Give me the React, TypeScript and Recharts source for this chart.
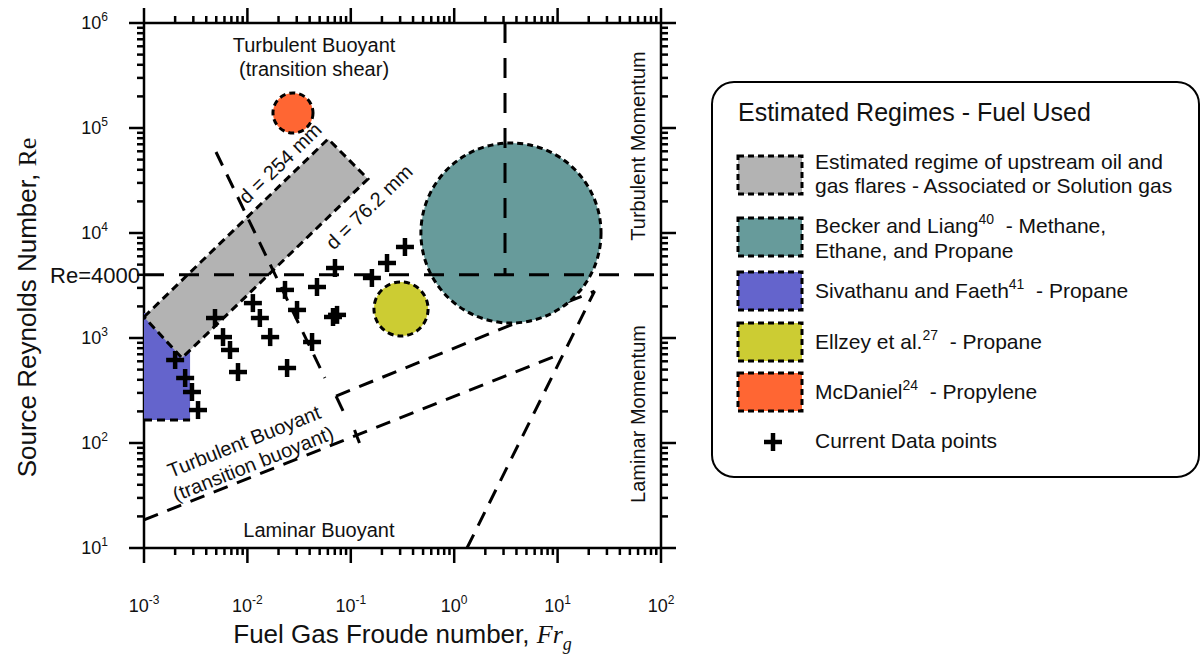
import React from "react";
import { ScatterChart, Scatter, XAxis, YAxis, Legend } from "recharts";

const FONT = "'Liberation Sans', Arial, Helvetica, sans-serif";
const SERIF = "'Liberation Serif', 'Times New Roman', serif";

// axis decades (exponents) and minor steps
const xDecades = [-3, -2, -1, 0, 1, 2];
const yDecades = [1, 2, 3, 4, 5, 6];
const minorSteps = [2, 3, 4, 5, 6, 7, 8, 9];
const RE_CRIT = 4000;

// current data points (Fr_g, Re)
const pointFr = [0.334, 0.224, 0.16, 0.0703, 0.0471, 0.0231, 0.0302, 0.0113, 0.0132, 0.00486, 0.00581, 0.00679, 0.0166, 0.0422, 0.0673, 0.0736, 0.00811, 0.0242, 0.002, 0.0025, 0.00291, 0.00333];
const pointRe = [7360, 5180, 3730, 4640, 3060, 2870, 1850, 2150, 1550, 1550, 1020, 769, 1020, 916, 1585, 1660, 474, 518, 617, 416, 306, 206];

// flare regime band corners
const flareFr = [0.001, 0.0603, 0.1465, 0.00233];
const flareRe = [1585, 78600, 32700, 645];

// Sivathanu and Faeth box corners
const sivFr = [0.001, 0.00279, 0.00279, 0.001];
const sivRe = [1730, 1730, 166, 166];

// regime circles: centre Fr, right-edge Fr, centre Re
const mcdFr = [0.0276, 0.0431];
const mcdRe = [139000, 139000];
const ellFr = [0.306, 0.559];
const ellRe = [1890, 1890];
const beckFr = [3.54, 26.3];
const beckRe = [10000, 10000];

// regime boundaries
const reLineFr = [0.001, 100];
const reLineRe = [RE_CRIT, RE_CRIT];
const shearLineFr = [3.1, 3.1];
const shearLineRe = [1e6, RE_CRIT];
const dLineFr = [0.00497, 0.0562];
const dLineRe = [59100, 416];
const upperFr = [0.072, 22.8];
const upperRe = [280, 2800];
const lowerFr = [0.001, 9.03];
const lowerRe = [18.5, 659];
const steepFr = [1.33, 22.8];
const steepRe = [10, 2800];
const upperTickFr = [0.072, 0.0841];
const upperTickRe = [280, 202];
const lowerTickFr = [0.1086, 0.1213];
const lowerTickRe = [133, 100];
const sivBottomFr = [0.001, 0.00279];
const sivBottomRe = [166, 166];

// in-plot annotations
const noteLines = [
  ["Turbulent Buoyant", "(transition shear)"],
  ["Turbulent Momentum"],
  ["Laminar Momentum"],
  ["Laminar Buoyant"],
  ["Turbulent Buoyant", "(transition buoyant)"],
  ["d = 254 mm"],
  ["d = 76.2 mm"],
];
const noteFr = [0.0441, 60, 60, 0.0492, 0.01026, 0.0207, 0.15];
const noteRe = [474000, 67400, 189, 14.8, 81.2, 46400, 17700];
const noteAngle = [0, -90, -90, 0, -21.7, -44, -44];

// legend
const legendTitle = "Estimated Regimes - Fuel Used";
const legendColors = ["#b3b3b3", "#679b9b", "#6464cc", "#cccc33", "#ff6633"];
const legendRows = [
  [{ t: "Estimated regime of upstream oil and" }, { t: "gas flares - Associated or Solution gas" }],
  [{ t: "Becker and Liang", sup: "40", rest: "\u00a0 - Methane," }, { t: "Ethane, and Propane" }],
  [{ t: "Sivathanu and Faeth", sup: "41", rest: "\u00a0 - Propane" }],
  [{ t: "Ellzey et al.", sup: "27", rest: "\u00a0 - Propane" }],
  [{ t: "McDaniel", sup: "24", rest: "\u00a0 - Propylene" }],
];
const legendPointLabel = "Current Data points";

const toPoints = (xs: number[], ys: number[]) => xs.map((x, i) => ({ x, y: ys[i] }));

const xTicks = xDecades.flatMap((e, i) =>
  i < xDecades.length - 1 ? [10 ** e, ...minorSteps.map((m) => m * 10 ** e)] : [10 ** e]
);
const yTicks = yDecades.flatMap((e, i) =>
  i < yDecades.length - 1 ? [10 ** e, ...minorSteps.map((m) => m * 10 ** e)] : [10 ** e]
);

const isMajor = (v: number) => Math.abs(Math.log10(v) - Math.round(Math.log10(v))) < 1e-6;
const expOf = (v: number) => Math.round(Math.log10(v));

const MAJOR = 15;
const MINOR = 7;

function makeXTick(side: "top" | "bottom") {
  return (props: any) => {
    const { x, y, payload } = props;
    const v = payload.value;
    const major = isMajor(v);
    const dir = side === "top" ? -1 : 1;
    return (
      <g>
        <line x1={x} x2={x} y1={y} y2={y + dir * (major ? MAJOR : MINOR)} stroke="#000" strokeWidth={2.5} />
        {major && side === "bottom" && (
          <text x={x} y={y + 64} textAnchor="middle" fontSize={18} fill="#111" fontFamily={FONT}>
            10
            <tspan dy={-8} fontSize={12}>
              {expOf(v)}
            </tspan>
          </text>
        )}
      </g>
    );
  };
}

function makeYTick(side: "left" | "right") {
  return (props: any) => {
    const { x, y, payload } = props;
    const v = payload.value;
    const major = isMajor(v);
    const dir = side === "left" ? -1 : 1;
    return (
      <g>
        <line x1={x} x2={x + dir * (major ? MAJOR : MINOR)} y1={y} y2={y} stroke="#000" strokeWidth={2.5} />
        {major && side === "left" && (
          <text x={x - 36} y={y + 6} textAnchor="end" fontSize={18} fill="#111" fontFamily={FONT}>
            10
            <tspan dy={-8} fontSize={12}>
              {expOf(v)}
            </tspan>
          </text>
        )}
        {v === RE_CRIT && side === "left" && (
          <text x={x - 4} y={y + 8} textAnchor="end" fontSize={22} fill="#111" fontFamily={FONT}>
            Re=4000
          </text>
        )}
      </g>
    );
  };
}

const shapeNone = () => <g />;

function polygonLine(fill: string, stroked: boolean) {
  return (props: any) => {
    const pts = props.points || [];
    if (!pts.length) return <g />;
    const d = pts.map((p: any, i: number) => `${i ? "L" : "M"}${p.x},${p.y}`).join(" ") + " Z";
    return (
      <path d={d} fill={fill} stroke={stroked ? "#000" : "none"} strokeWidth={3} strokeDasharray="8 5" />
    );
  };
}

function circleLine(fill: string) {
  return (props: any) => {
    const pts = props.points || [];
    if (pts.length < 2) return <g />;
    const r = Math.abs(pts[1].x - pts[0].x);
    return (
      <circle cx={pts[0].x} cy={pts[0].y} r={r} fill={fill} stroke="#000" strokeWidth={3} strokeDasharray="6 4" />
    );
  };
}

const longDash = { stroke: "#000", strokeWidth: 3, strokeDasharray: "20 15" };
const slantDash = { stroke: "#000", strokeWidth: 3, strokeDasharray: "15 10" };
const solid = { stroke: "#000", strokeWidth: 3 };

function PlusShape(props: any) {
  const { cx, cy } = props;
  return (
    <g stroke="#000" strokeWidth={4.5}>
      <line x1={cx - 9} x2={cx + 9} y1={cy} y2={cy} />
      <line x1={cx} x2={cx} y1={cy - 9} y2={cy + 9} />
    </g>
  );
}

function NoteShape(props: any) {
  const { cx, cy, payload } = props;
  const lines: string[] = noteLines[payload.idx];
  const angle = noteAngle[payload.idx];
  const lh = 24;
  return (
    <text
      transform={`rotate(${angle}, ${cx}, ${cy})`}
      textAnchor="middle"
      fontSize={20}
      fill="#111"
      fontFamily={FONT}
    >
      {lines.map((l, i) => (
        <tspan key={i} x={cx} y={cy + (i - (lines.length - 1) / 2) * lh + 7}>
          {l}
        </tspan>
      ))}
    </text>
  );
}

function LegendBox() {
  const sw = [75, 137, 191, 242, 292];
  const rowY = [[81, 105], [145, 170], [210], [261], [311]];
  return (
    <svg width={489} height={398} style={{ display: "block", fontFamily: FONT }}>
      <rect x={1} y={1} width={487} height={395} rx={22} fill="#fff" stroke="#000" strokeWidth={2} />
      <text x={27} y={40} fontSize={25} fill="#111">
        {legendTitle}
      </text>
      {legendRows.map((row, i) => (
        <g key={i}>
          <rect x={27} y={sw[i]} width={64} height={38} fill={legendColors[i]} stroke="#000" strokeWidth={3} strokeDasharray="6 4" />
          {row.map((ln: any, j: number) => (
            <text key={j} x={104} y={rowY[i][j] + 7} fontSize={21} fill="#111" style={{ whiteSpace: "pre" }}>
              {ln.t}
              {ln.sup && (
                <tspan dy={-9} fontSize={14}>
                  {ln.sup}
                </tspan>
              )}
              {ln.rest && <tspan dy={9}>{ln.rest}</tspan>}
            </text>
          ))}
        </g>
      ))}
      <g stroke="#000" strokeWidth={4.5}>
        <line x1={53} x2={71} y1={361} y2={361} />
        <line x1={62} x2={62} y1={352} y2={370} />
      </g>
      <text x={104} y={367} fontSize={21} fill="#111">
        {legendPointLabel}
      </text>
    </svg>
  );
}

const XTitle = (props: any) => {
  const { viewBox } = props;
  const cx = viewBox.x + viewBox.width / 2;
  return (
    <text x={cx} y={viewBox.y + 95} textAnchor="middle" fontSize={26} fill="#111" fontFamily={FONT}>
      Fuel Gas Froude number,{" "}
      <tspan fontFamily={SERIF} fontStyle="italic">
        Fr
      </tspan>
      <tspan fontFamily={SERIF} fontStyle="italic" fontSize={18} dy={7}>
        g
      </tspan>
    </text>
  );
};

const YTitle = (props: any) => {
  const { viewBox } = props;
  const cx = 36;
  const cy = viewBox.y + viewBox.height / 2 + 22;
  return (
    <text
      x={cx}
      y={cy}
      transform={`rotate(-90, ${cx}, ${cy})`}
      textAnchor="middle"
      fontSize={26}
      fill="#111"
      fontFamily={FONT}
    >
      Source Reynolds Number,{" "}
      <tspan fontFamily={SERIF}>Re</tspan>
    </text>
  );
};

export default function App() {
  const axisLine = { stroke: "#000", strokeWidth: 2.5 };
  const xDomain: [number, number] = [1e-3, 1e2];
  const yDomain: [number, number] = [1e1, 1e6];
  const notes = noteFr.map((x, i) => ({ x, y: noteRe[i], idx: i }));

  return (
    <div style={{ position: "absolute", left: 0, top: 0, fontFamily: FONT, background: "#fff" }}>
      <ScatterChart width={1203} height={658} margin={{ top: 3, right: 522, bottom: 30, left: 24 }}>
        <XAxis
          xAxisId={0}
          dataKey="x"
          type="number"
          scale="log"
          domain={xDomain}
          allowDataOverflow
          ticks={xTicks}
          interval={0}
          tickSize={0}
          tickMargin={0}
          tickLine={false}
          axisLine={axisLine}
          tick={makeXTick("bottom")}
          height={80}
          label={<XTitle />}
        />
        <XAxis
          xAxisId="top"
          orientation="top"
          dataKey="x"
          type="number"
          scale="log"
          domain={xDomain}
          allowDataOverflow
          ticks={xTicks}
          interval={0}
          tickSize={0}
          tickMargin={0}
          tickLine={false}
          axisLine={axisLine}
          tick={makeXTick("top")}
          height={20}
        />
        <YAxis
          yAxisId={0}
          dataKey="y"
          type="number"
          scale="log"
          domain={yDomain}
          allowDataOverflow
          ticks={yTicks}
          interval={0}
          tickSize={0}
          tickMargin={0}
          tickLine={false}
          axisLine={axisLine}
          tick={makeYTick("left")}
          width={120}
          label={<YTitle />}
        />
        <YAxis
          yAxisId="r"
          orientation="right"
          dataKey="y"
          type="number"
          scale="log"
          domain={yDomain}
          allowDataOverflow
          ticks={yTicks}
          interval={0}
          tickSize={0}
          tickMargin={0}
          tickLine={false}
          axisLine={axisLine}
          tick={makeYTick("right")}
          width={20}
        />

        <Scatter data={toPoints(sivFr, sivRe)} shape={shapeNone} line={polygonLine("#6464cc", false)} isAnimationActive={false} />
        <Scatter data={toPoints(sivBottomFr, sivBottomRe)} shape={shapeNone} line={{ stroke: "#000", strokeWidth: 3, strokeDasharray: "8 5" }} lineJointType="linear" isAnimationActive={false} />
        <Scatter data={toPoints(flareFr, flareRe)} shape={shapeNone} line={polygonLine("#b3b3b3", true)} isAnimationActive={false} />

        <Scatter data={toPoints(dLineFr, dLineRe)} shape={shapeNone} line={slantDash} lineJointType="linear" isAnimationActive={false} />
        <Scatter data={toPoints(upperFr, upperRe)} shape={shapeNone} line={slantDash} lineJointType="linear" isAnimationActive={false} />
        <Scatter data={toPoints(lowerFr, lowerRe)} shape={shapeNone} line={slantDash} lineJointType="linear" isAnimationActive={false} />
        <Scatter data={toPoints(steepFr, steepRe)} shape={shapeNone} line={slantDash} lineJointType="linear" isAnimationActive={false} />
        <Scatter data={toPoints(upperTickFr, upperTickRe)} shape={shapeNone} line={solid} lineJointType="linear" isAnimationActive={false} />
        <Scatter data={toPoints(lowerTickFr, lowerTickRe)} shape={shapeNone} line={solid} lineJointType="linear" isAnimationActive={false} />

        <Scatter data={toPoints(mcdFr, mcdRe)} shape={shapeNone} line={circleLine("#ff6633")} isAnimationActive={false} />
        <Scatter data={toPoints(ellFr, ellRe)} shape={shapeNone} line={circleLine("#cccc33")} isAnimationActive={false} />
        <Scatter data={toPoints(beckFr, beckRe)} shape={shapeNone} line={circleLine("#679b9b")} isAnimationActive={false} />

        <Scatter data={toPoints(reLineFr, reLineRe)} shape={shapeNone} line={longDash} lineJointType="linear" isAnimationActive={false} />
        <Scatter data={toPoints(shearLineFr, shearLineRe)} shape={shapeNone} line={longDash} lineJointType="linear" isAnimationActive={false} />

        <Scatter name="Current Data points" data={toPoints(pointFr, pointRe)} shape={<PlusShape />} isAnimationActive={false} />
        <Scatter data={notes} shape={<NoteShape />} isAnimationActive={false} />

        <Legend
          layout="vertical"
          align="center"
          verticalAlign="middle"
          wrapperStyle={{ left: 711, top: 81, width: 489, height: 398 }}
          content={() => <LegendBox />}
        />
      </ScatterChart>
    </div>
  );
}
